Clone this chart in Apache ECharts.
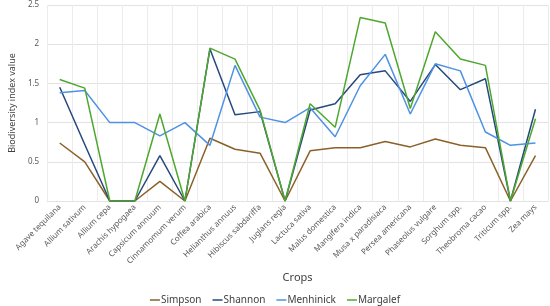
<!DOCTYPE html>
<html>
<head>
<meta charset="utf-8">
<script src="https://cdn.jsdelivr.net/npm/echarts@6/dist/echarts.min.js"></script>
<style>
  html, body { margin: 0; padding: 0; background: #fff; }
  #chart { width: 550px; height: 306px; }
</style>
</head>
<body>
<div id="chart"></div>
<script>
  var crops = ['Agave tequilana', 'Allium sativum', 'Allium cepa', 'Arachis hypogaea', 'Capsicum annuum',
    'Cinnamomum verum', 'Coffea arabica', 'Helianthus annuus', 'Hibiscus sabdariffa', 'Juglans regia',
    'Lactuca sativa', 'Malus domestica', 'Mangifera indica', 'Musa x paradisiaca', 'Persea americana',
    'Phaseolus vulgare', 'Sorghum spp.', 'Theobroma cacao', 'Triticum spp.', 'Zea mays']
  var simpson = [0.74, 0.50, 0, 0, 0.25, 0, 0.80, 0.66, 0.61, 0, 0.64, 0.68, 0.68, 0.76, 0.69, 0.79, 0.71, 0.68, 0, 0.58]
  var shannon = [1.45, 0.72, 0, 0, 0.58, 0, 1.94, 1.10, 1.14, 0, 1.16, 1.24, 1.61, 1.66, 1.27, 1.74, 1.42, 1.56, 0, 1.17]
  var menhinick = [1.38, 1.41, 1.0, 1.0, 0.83, 1.0, 0.71, 1.73, 1.07, 1.0, 1.19, 0.82, 1.47, 1.87, 1.11, 1.75, 1.66, 0.88, 0.71, 0.74]
  var margalef = [1.55, 1.44, 0, 0, 1.11, 0, 1.95, 1.81, 1.16, 0, 1.24, 0.94, 2.34, 2.27, 1.18, 2.16, 1.81, 1.73, 0, 1.05]
  var yTicks = [0, 0.5, 1, 1.5, 2, 2.5]

  var font = 'Noto Sans'
  var myChart = echarts.init(document.getElementById('chart'))

  function line(name, data, color) {
    return {
      name: name,
      type: 'line',
      data: data,
      symbol: 'none',
      lineStyle: { color: color, width: 1.5 },
      itemStyle: { color: color }
    }
  }

  myChart.setOption({
    animation: false,
    textStyle: { fontFamily: font },
    grid: { left: 36, right: 2, top: 5, bottom: 105 },
    legend: {
      top: 290,
      left: 'center',
      itemWidth: 10,
      itemHeight: 1.5,
      itemGap: 11,
      icon: 'rect',
      textStyle: { fontSize: 10, color: '#404040', fontFamily: font, padding: [0, 0, 0, -4] },
      data: ['Simpson', 'Shannon', 'Menhinick', 'Margalef']
    },
    xAxis: {
      type: 'category',
      data: crops,
      name: 'Crops',
      nameLocation: 'middle',
      nameGap: 68,
      nameTextStyle: { fontSize: 11, color: '#404040' },
      axisLine: { show: true, lineStyle: { color: '#e3e3e3' } },
      axisTick: { show: false },
      splitLine: { show: true, lineStyle: { color: '#ececec' } },
      axisLabel: { rotate: 45, fontSize: 8, color: '#595959', interval: 0, margin: 5 }
    },
    yAxis: {
      type: 'value',
      min: yTicks[0],
      max: yTicks[yTicks.length - 1],
      interval: 0.5,
      name: 'Biodiversity index value',
      nameLocation: 'middle',
      nameGap: 24,
      nameTextStyle: { fontSize: 9, color: '#404040' },
      axisLine: { show: false },
      axisTick: { show: false },
      splitLine: { lineStyle: { color: '#e3e3e3' } },
      axisLabel: { fontSize: 8, color: '#595959', margin: 8 }
    },
    series: [
      line('Simpson', simpson, '#8a6128'),
      line('Shannon', shannon, '#26497d'),
      line('Menhinick', menhinick, '#4e92e4'),
      line('Margalef', margalef, '#4ea72e')
    ]
  })
</script>
</body>
</html>
